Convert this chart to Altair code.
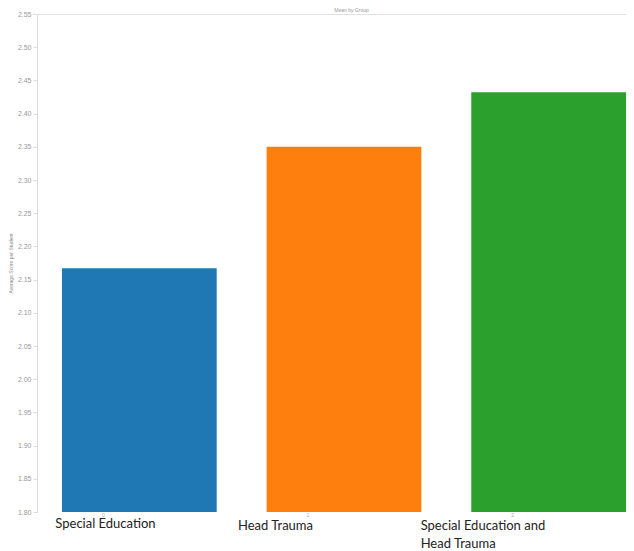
import altair as alt
import pandas as pd

categories = ["Special Education", "Head Trauma", "Special Education and Head Trauma"]
codes = ["0", "1", "2"]
values = [2.167, 2.35, 2.432]
colors = ["#1f77b4", "#ff7f0e", "#2ca02c"]
y_ticks = [1.80, 1.85, 1.90, 1.95, 2.00, 2.05, 2.10, 2.15, 2.20, 2.25, 2.30, 2.35, 2.40, 2.45, 2.50, 2.55]
y_min = 1.80
y_max = 2.55

df = pd.DataFrame({"category": categories, "code": codes, "value": values})

x_enc = alt.X(
    "category:N",
    sort=categories,
    scale=alt.Scale(paddingInner=0.244, paddingOuter=0.061, align=1),
    axis=alt.Axis(
        title=None,
        ticks=False,
        domain=False,
        labelAngle=0,
        labelAlign="left",
        labelBaseline="top",
        labelFont="Lato",
        labelFontSize=13,
        labelColor="#222222",
        labelLineHeight=18,
        labelLimit=300,
        labelOverlap=False,
        labelExpr="datum.value == 'Special Education and Head Trauma' ? ['Special Education and', 'Head Trauma'] : datum.label",
        labelOffset={
            "condition": [
                {"test": "datum.value == 'Special Education'", "value": -84},
                {"test": "datum.value == 'Head Trauma'", "value": -106},
            ],
            "value": -128,
        },
        labelPadding={
            "condition": {"test": "datum.value == 'Special Education'", "value": 5},
            "value": 7,
        },
    ),
)

y_enc = alt.Y(
    "value:Q",
    scale=alt.Scale(domain=[y_min, y_max], zero=False, nice=False),
    axis=alt.Axis(
        title="Average Score per Student",
        titleFontSize=5,
        titleColor="#888888",
        titleFontWeight="normal",
        titlePadding=2,
        values=y_ticks,
        tickCount=30,
        format=".2f",
        labelOverlap=False,
        labelFontSize=7,
        labelColor="#999999",
        labelFont="Liberation Sans",
        labelPadding=2,
        tickSize=4,
        tickColor="#dddddd",
        domainColor="#dddddd",
        gridColor="#e2e2e2",
        gridOpacity={"condition": {"test": "datum.value >= 2.549", "value": 1}, "value": 0},
        minExtent=22,
        maxExtent=22,
    ),
)

bars = alt.Chart(df).mark_bar().encode(
    x=x_enc,
    y=y_enc,
    y2=alt.datum(y_min),
    color=alt.Color("category:N", sort=categories,
                    scale=alt.Scale(domain=categories, range=colors), legend=None),
)

nums = alt.Chart(df).mark_text(fontSize=5, color="#aaaaaa", dx=-36, dy=1, baseline="top").encode(
    x=alt.X("category:N", sort=categories),
    y=alt.datum(y_min),
    text="code:N",
)

chart = alt.layer(bars, nums).properties(
    width=589,
    height=498,
    title=alt.TitleParams("Mean by Group", fontSize=5, color="#999999", fontWeight="normal",
                          offset=0, dx=20, dy=3),
    autosize=alt.AutoSizeParams(type="none"),
    padding={"left": 29, "top": 6, "right": 0, "bottom": 39},
).configure_view(stroke=None)

chart.save("out.html", embed_options={"renderer": "svg", "actions": False})
